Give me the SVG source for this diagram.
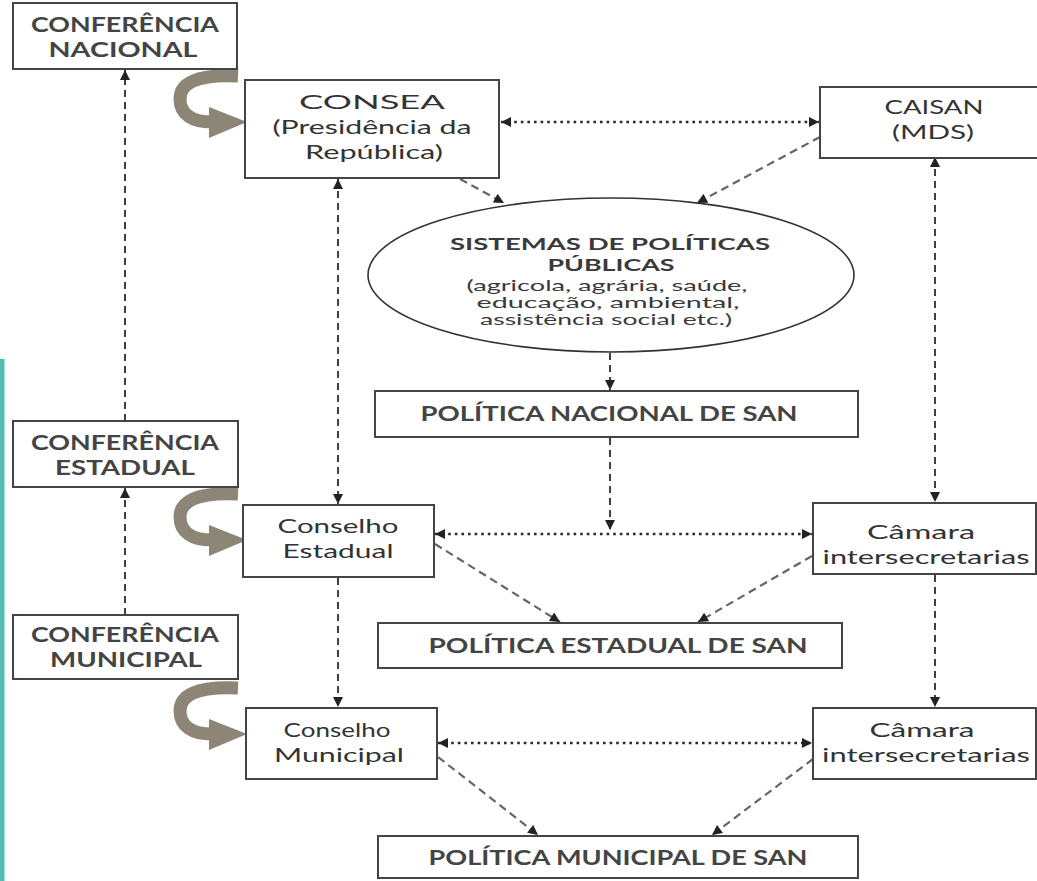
<svg xmlns="http://www.w3.org/2000/svg" xmlns:xlink="http://www.w3.org/1999/xlink" width="1037" height="881" viewBox="0 0 1037 881">
<style>
.box{fill:#fff;stroke:#444;stroke-width:2}
.ell{fill:#fff;stroke:#333;stroke-width:1.6}
.cap{font-family:Lato,"Open Sans",sans-serif;font-weight:700;font-size:20px;fill:#444;text-anchor:middle}
.mix{font-family:Lato,"Open Sans",sans-serif;font-weight:400;font-size:20px;fill:#333;text-anchor:middle}
.etitle{font-family:Lato,"Open Sans",sans-serif;font-weight:700;font-size:17px;fill:#3a3a3a;text-anchor:middle}
.esub{font-family:Lato,"Open Sans",sans-serif;font-weight:400;font-size:15px;fill:#3a3a3a;text-anchor:middle}
.dash{fill:none;stroke:#2a2a2a;stroke-width:1.8;stroke-dasharray:7 5}
.diag{fill:none;stroke:#666;stroke-width:2.2;stroke-dasharray:8 5}
.dot{fill:none;stroke:#2a2a2a;stroke-width:2.6;stroke-dasharray:2.6 4}
.curve{fill:none;stroke:#8d8676;stroke-width:13}
.curvehead{fill:#8d8676}
</style>
<defs>
<marker id="ah" viewBox="0 0 10 10" refX="10" refY="5" markerWidth="11" markerHeight="10" markerUnits="userSpaceOnUse" orient="auto-start-reverse">
<path d="M0,0 L10,5 L0,10 z" fill="#222"/>
</marker>
<g id="curveArrow">
<path class="curve" d="M 238,76 C 195,74 180,84 180,99 C 180,114 192,122 212,122"/>
<polygon class="curvehead" points="209,107 247,122 209,138"/>
</g>
</defs>

<rect x="0" y="359" width="4.5" height="522" fill="#52bcb0"/>

<g id="connectors">
<line class="dash" x1="125" y1="421" x2="125" y2="70" marker-end="url(#ah)"/>
<line class="dash" x1="125" y1="615" x2="125" y2="488" marker-end="url(#ah)"/>
<line class="dash" x1="338" y1="179" x2="338" y2="504" marker-start="url(#ah)" marker-end="url(#ah)"/>
<line class="dash" x1="338" y1="578" x2="338" y2="707" marker-end="url(#ah)"/>
<line class="dash" x1="935" y1="157" x2="935" y2="502" marker-start="url(#ah)" marker-end="url(#ah)"/>
<line class="dash" x1="935" y1="575" x2="935" y2="707" marker-end="url(#ah)"/>
<line class="dash" x1="610" y1="353" x2="610" y2="390" marker-end="url(#ah)"/>
<line class="dash" x1="610" y1="438" x2="610" y2="530" marker-end="url(#ah)"/>
<line class="dot" x1="501" y1="122" x2="819" y2="122" marker-start="url(#ah)" marker-end="url(#ah)"/>
<line class="dot" x1="435" y1="534" x2="812" y2="534" marker-start="url(#ah)" marker-end="url(#ah)"/>
<line class="dot" x1="438" y1="743" x2="812" y2="743" marker-start="url(#ah)" marker-end="url(#ah)"/>
<line class="diag" x1="460" y1="179" x2="504" y2="203" marker-end="url(#ah)"/>
<line class="diag" x1="820" y1="137" x2="697" y2="203" marker-end="url(#ah)"/>
<line class="diag" x1="435" y1="544" x2="560" y2="622" marker-end="url(#ah)"/>
<line class="diag" x1="812" y1="556" x2="698" y2="622" marker-end="url(#ah)"/>
<line class="diag" x1="438" y1="757" x2="538" y2="835" marker-end="url(#ah)"/>
<line class="diag" x1="813" y1="759" x2="712" y2="835" marker-end="url(#ah)"/>
<use xlink:href="#curveArrow" href="#curveArrow"/>
<use xlink:href="#curveArrow" href="#curveArrow" transform="translate(0,418)"/>
<use xlink:href="#curveArrow" href="#curveArrow" transform="translate(0,612)"/>
</g>

<g id="conf-nacional">
<rect class="box" x="13" y="3" width="224" height="66"/>
<text class="cap" x="125" y="32" textLength="188" lengthAdjust="spacingAndGlyphs">CONFERÊNCIA</text>
<text class="cap" x="123" y="57" textLength="149" lengthAdjust="spacingAndGlyphs">NACIONAL</text>
</g>

<g id="consea">
<rect class="box" x="245" y="80" width="254" height="98"/>
<text class="mix" x="372" y="109" textLength="146" lengthAdjust="spacingAndGlyphs">CONSEA</text>
<text class="mix" x="372" y="134" textLength="199" lengthAdjust="spacingAndGlyphs">(Presidência da</text>
<text class="mix" x="374" y="159" textLength="138" lengthAdjust="spacingAndGlyphs">República)</text>
</g>

<g id="caisan">
<rect class="box" x="820" y="87" width="226" height="71"/>
<text class="mix" x="934" y="114" textLength="99" lengthAdjust="spacingAndGlyphs">CAISAN</text>
<text class="mix" x="933" y="139" textLength="82" lengthAdjust="spacingAndGlyphs">(MDS)</text>
</g>

<g id="sistemas">
<ellipse class="ell" cx="611" cy="275" rx="243" ry="77"/>
<text class="etitle" x="610" y="250" textLength="320" lengthAdjust="spacingAndGlyphs">SISTEMAS DE POLÍTICAS</text>
<text class="etitle" x="611" y="271" textLength="127" lengthAdjust="spacingAndGlyphs">PÚBLICAS</text>
<text class="esub" x="607" y="291" textLength="281" lengthAdjust="spacingAndGlyphs">(agricola, agrária, saúde,</text>
<text class="esub" x="608" y="308" textLength="263" lengthAdjust="spacingAndGlyphs">educação, ambiental,</text>
<text class="esub" x="606" y="325" textLength="252" lengthAdjust="spacingAndGlyphs">assistência social etc.)</text>
</g>

<g id="pol-nacional">
<rect class="box" x="375" y="391" width="483" height="46"/>
<text class="cap" x="609" y="421" textLength="377" lengthAdjust="spacingAndGlyphs">POLÍTICA NACIONAL DE SAN</text>
</g>

<g id="conf-estadual">
<rect class="box" x="13" y="421" width="225" height="66"/>
<text class="cap" x="125" y="450" textLength="188" lengthAdjust="spacingAndGlyphs">CONFERÊNCIA</text>
<text class="cap" x="125" y="475" textLength="140" lengthAdjust="spacingAndGlyphs">ESTADUAL</text>
</g>

<g id="conselho-estadual">
<rect class="box" x="243" y="505" width="191" height="72"/>
<text class="mix" x="338" y="533" textLength="121" lengthAdjust="spacingAndGlyphs">Conselho</text>
<text class="mix" x="338" y="558" textLength="111" lengthAdjust="spacingAndGlyphs">Estadual</text>
</g>

<g id="camara-estadual">
<rect class="box" x="813" y="503" width="223" height="71"/>
<text class="mix" x="921" y="539" textLength="108" lengthAdjust="spacingAndGlyphs">Câmara</text>
<text class="mix" x="926" y="564" textLength="207" lengthAdjust="spacingAndGlyphs">intersecretarias</text>
</g>

<g id="pol-estadual">
<rect class="box" x="378" y="623" width="464" height="45"/>
<text class="cap" x="618" y="653" textLength="379" lengthAdjust="spacingAndGlyphs">POLÍTICA ESTADUAL DE SAN</text>
</g>

<g id="conf-municipal">
<rect class="box" x="13" y="615" width="225" height="64"/>
<text class="cap" x="125" y="642" textLength="188" lengthAdjust="spacingAndGlyphs">CONFERÊNCIA</text>
<text class="cap" x="126" y="667" textLength="152" lengthAdjust="spacingAndGlyphs">MUNICIPAL</text>
</g>

<g id="conselho-municipal">
<rect class="box" x="246" y="708" width="191" height="71"/>
<text class="mix" x="337" y="737" textLength="107" lengthAdjust="spacingAndGlyphs">Conselho</text>
<text class="mix" x="339" y="762" textLength="130" lengthAdjust="spacingAndGlyphs">Municipal</text>
</g>

<g id="camara-municipal">
<rect class="box" x="813" y="708" width="223" height="71"/>
<text class="mix" x="922" y="737" textLength="105" lengthAdjust="spacingAndGlyphs">Câmara</text>
<text class="mix" x="926" y="762" textLength="208" lengthAdjust="spacingAndGlyphs">intersecretarias</text>
</g>

<g id="pol-municipal">
<rect class="box" x="378" y="836" width="480" height="42"/>
<text class="cap" x="618" y="865" textLength="379" lengthAdjust="spacingAndGlyphs">POLÍTICA MUNICIPAL DE SAN</text>
</g>
</svg>
